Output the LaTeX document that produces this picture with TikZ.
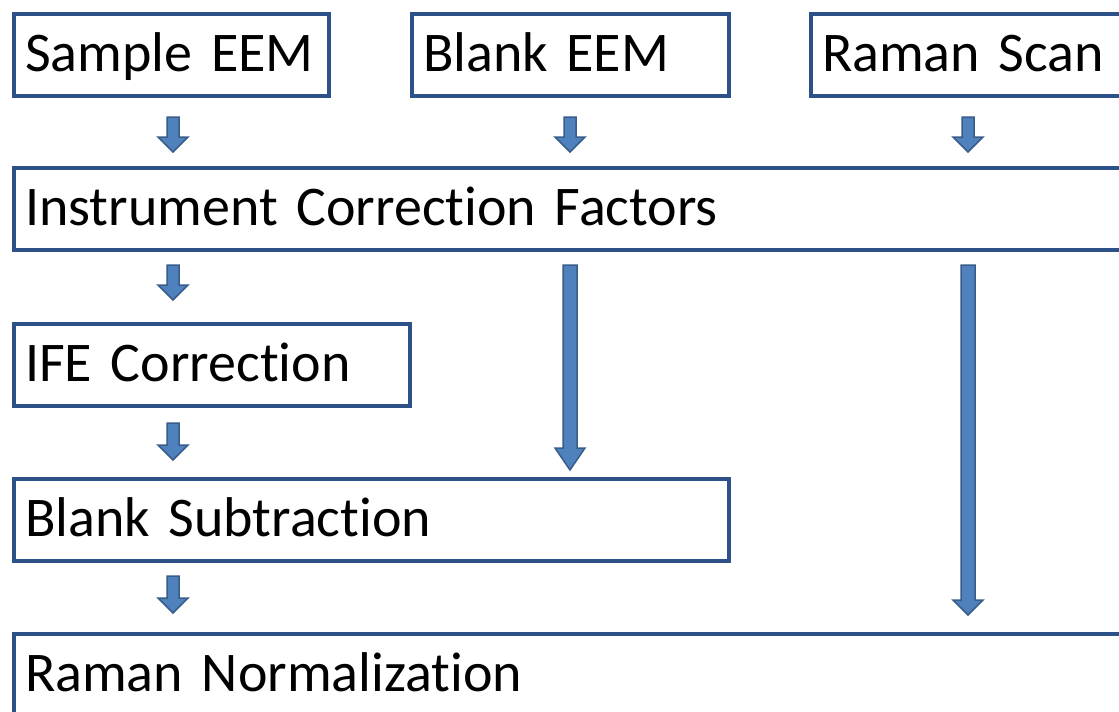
\documentclass[tikz,border=0pt]{standalone}
\usepackage{fontspec}
\setmainfont{Carlito}[RawFeature={-liga}]
\usetikzlibrary{calc}
\definecolor{boxblue}{RGB}{44,82,137}
\definecolor{arrowfill}{RGB}{79,129,189}
\definecolor{arrowedge}{RGB}{56,93,138}
\tikzset{
  flowbox/.style={draw=boxblue, line width=4pt, fill=white, rectangle, anchor=north west,
    minimum height=82pt, inner xsep=11pt, inner ysep=0pt, align=left,
    text height=33pt, text depth=0pt, font=\fontsize{56}{60}\selectfont},
  blockarrow/.style={fill=arrowfill, draw=arrowedge, line width=1.5pt, line join=miter}
}
\newcommand{\blockarr}[4]{%
  \filldraw[blockarrow] let \p1=(#1), \p2=(#2) in
    (\x1-#4pt,\y1) -- (\x1+#4pt,\y1) -- (\x1+#4pt,\y2+#3pt) -- (\x1+15pt,\y2+#3pt)
    -- (\x1,\y2) -- (\x1-15pt,\y2+#3pt) -- (\x1-#4pt,\y2+#3pt) -- cycle;}
\begin{document}
\begin{tikzpicture}[x=1pt,y=-1pt]
\useasboundingbox (0,0) rectangle (1119,712);
\clip (0,0) rectangle (1119,712);
\fill[white] (0,0) rectangle (1119,712);
\node[flowbox, minimum width=315pt, text width=293pt] (sample) at (12,12) {Sample EEM};
\node[flowbox, minimum width=317pt, text width=295pt] (blank) at (410,12) {Blank EEM};
\node[flowbox, minimum width=329pt, text width=307pt] (raman) at (809,12) {Raman Scan};
\node[flowbox, minimum width=1126pt, text width=1104pt] (icf) at (12,166) {Instrument Correction Factors};
\node[flowbox, minimum width=396pt, text width=374pt] (ife) at (12,322) {IFE Correction};
\node[flowbox, minimum width=715pt, text width=693pt] (bsub) at (12,477) {Blank Subtraction};
\node[flowbox, minimum width=1126pt, text width=1104pt] (rnorm) at (12,632) {Raman Normalization};
% arrow endpoints
\coordinate (a1s) at ($(sample.south west)+(161,19)$);
\coordinate (a1e) at ($(a1s |- icf.north)+(0,-14)$);
\coordinate (a2s) at ($(blank.south west)+(160,19)$);
\coordinate (a2e) at ($(a2s |- icf.north)+(0,-14)$);
\coordinate (a3s) at ($(raman.south west)+(159,19)$);
\coordinate (a3e) at ($(a3s |- icf.north)+(0,-14)$);
\coordinate (a4s) at ($(a1s |- icf.south)+(0,13)$);
\coordinate (a4e) at ($(a1s |- ife.north)+(0,-22)$);
\coordinate (a5s) at ($(a2s |- icf.south)+(0,13)$);
\coordinate (a5e) at ($(a2s |- bsub.north)+(0,-7)$);
\coordinate (a6s) at ($(a3s |- icf.south)+(0,13)$);
\coordinate (a6e) at ($(a3s |- rnorm.north)+(0,-17)$);
\coordinate (a7s) at ($(a1s |- ife.south)+(0,15)$);
\coordinate (a7e) at ($(a1s |- bsub.north)+(0,-17)$);
\coordinate (a8s) at ($(a1s |- bsub.south)+(0,13)$);
\coordinate (a8e) at ($(a1s |- rnorm.north)+(0,-19)$);
\blockarr{a1s}{a1e}{15}{6}
\blockarr{a2s}{a2e}{15}{6}
\blockarr{a3s}{a3e}{15}{6}
\blockarr{a4s}{a4e}{15}{6}
\blockarr{a5s}{a5e}{22}{7}
\blockarr{a6s}{a6e}{15}{7}
\blockarr{a7s}{a7e}{15}{6}
\blockarr{a8s}{a8e}{15}{6}
\end{tikzpicture}
\end{document}
